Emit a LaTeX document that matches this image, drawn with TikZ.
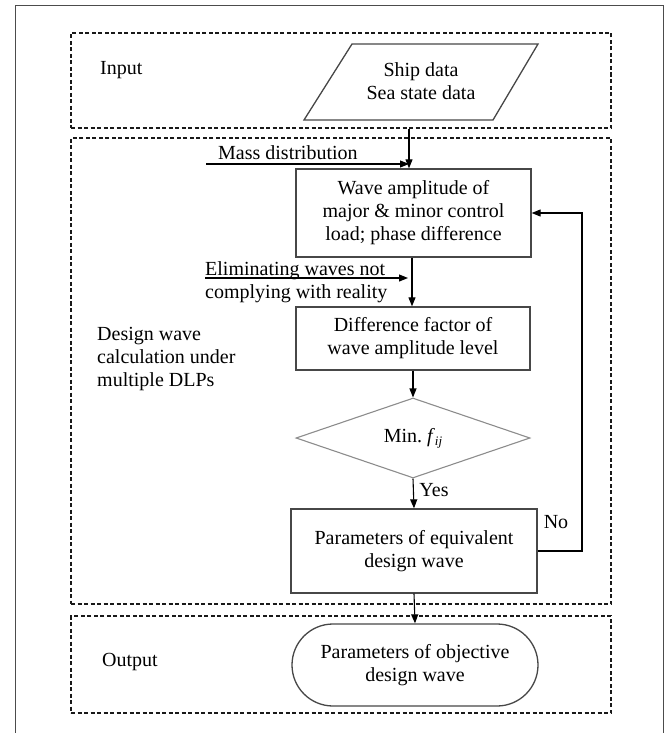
\documentclass[tikz,border=0pt]{standalone}
\usepackage{fontspec}
\setmainfont{Liberation Serif}
\usetikzlibrary{shapes.geometric,shapes.misc,arrows.meta}
\begin{document}
\begin{tikzpicture}[x=1pt,y=-1pt,
  every node/.style={font=\fontsize{20}{23}\selectfont, inner sep=0pt, text=black},
  grp/.style={draw=black!90, dash pattern=on 4pt off 2.5pt, line width=1.4pt, minimum width=540pt},
  proc/.style={draw=black!72, line width=1.3pt, align=center},
  conn/.style={draw=black, line width=1.1pt, -{Triangle[length=9pt,width=7pt]}},
  lbl/.style={align=left, anchor=west}]
\useasboundingbox (0,0) rectangle (669,733);
% outer frame
\draw[black!70, line width=1pt] (15,733) -- (15,6) -- (663,6) -- (663,733);
% groups
\node[grp, minimum height=95pt] (gin) at (341,80.5) {};
\node[grp, minimum height=466pt] (gmid) at (341,371) {};
\node[grp, minimum height=97pt] (gout) at (341,664.5) {};
% group labels
\node[lbl] (lin) at (100,70) {Input};
\node[lbl] (lmid) at (97,359) {Design wave\\calculation under\\multiple DLPs};
\node[lbl] (lout) at (102,662) {Output};
% input parallelogram
\draw[black!72, line width=1.3pt] (352,44) -- (538,44) -- (493,120) -- (304,120) -- cycle;
\node[align=center] (pd) at (421,81) {Ship data\\Sea state data};
% process boxes
\node[proc, minimum width=235pt, minimum height=88pt] (box1) at (413.5,213)
  {Wave amplitude of\\major \& minor control\\load; phase difference};
\node[proc, minimum width=234pt, minimum height=63pt] (box2) at (413,338.5)
  {Difference factor of\\wave amplitude level};
\node[diamond, draw=black!45, line width=1.1pt, minimum width=234pt, minimum height=80pt] (dia) at (413,438)
  {Min.\ \textit{f}\raisebox{-0.35ex}{\fontsize{13}{13}\selectfont\textit{ij}}};
\node[proc, minimum width=246pt, minimum height=84pt] (box3) at (414,551)
  {Parameters of equivalent\\design wave};
\node[rounded rectangle, draw=black!72, line width=1.3pt, minimum width=246pt, minimum height=82pt, align=center] (term) at (415,665)
  {Parameters of objective\\design wave};
% helper coordinates
\coordinate (xa) at (409,0);
\coordinate (xb) at (412,0);
\coordinate (fb) at (582,0);
\coordinate (md) at (206,164);
\coordinate (el) at (205,278);
% connectors
\draw[conn] (gin.south -| xa) -- (box1.north -| xa);
\draw[conn] (md) -- (md -| xa);
\node[lbl] (mdl) at (218,153) {Mass distribution};
\draw[conn] (box1.south -| xb) -- (box2.north -| xb);
\draw[conn, shorten >=4pt] (el) -- (el -| xb);
\node[lbl] (ell) at (205,282.5) {Eliminating waves not\\complying with reality};
\draw[conn] (box2.south) -- (dia.north);
\draw[conn] (dia.south) -- (box3.north);
\node (yes) at (434,490) {Yes};
\draw[conn] (box3.east) -- (box3.east -| fb) -- (box1.east -| fb) -- (box1.east);
\node (no) at (556,522) {No};
\draw[conn] (box3.south) -- (term.north);
\end{tikzpicture}
\end{document}
